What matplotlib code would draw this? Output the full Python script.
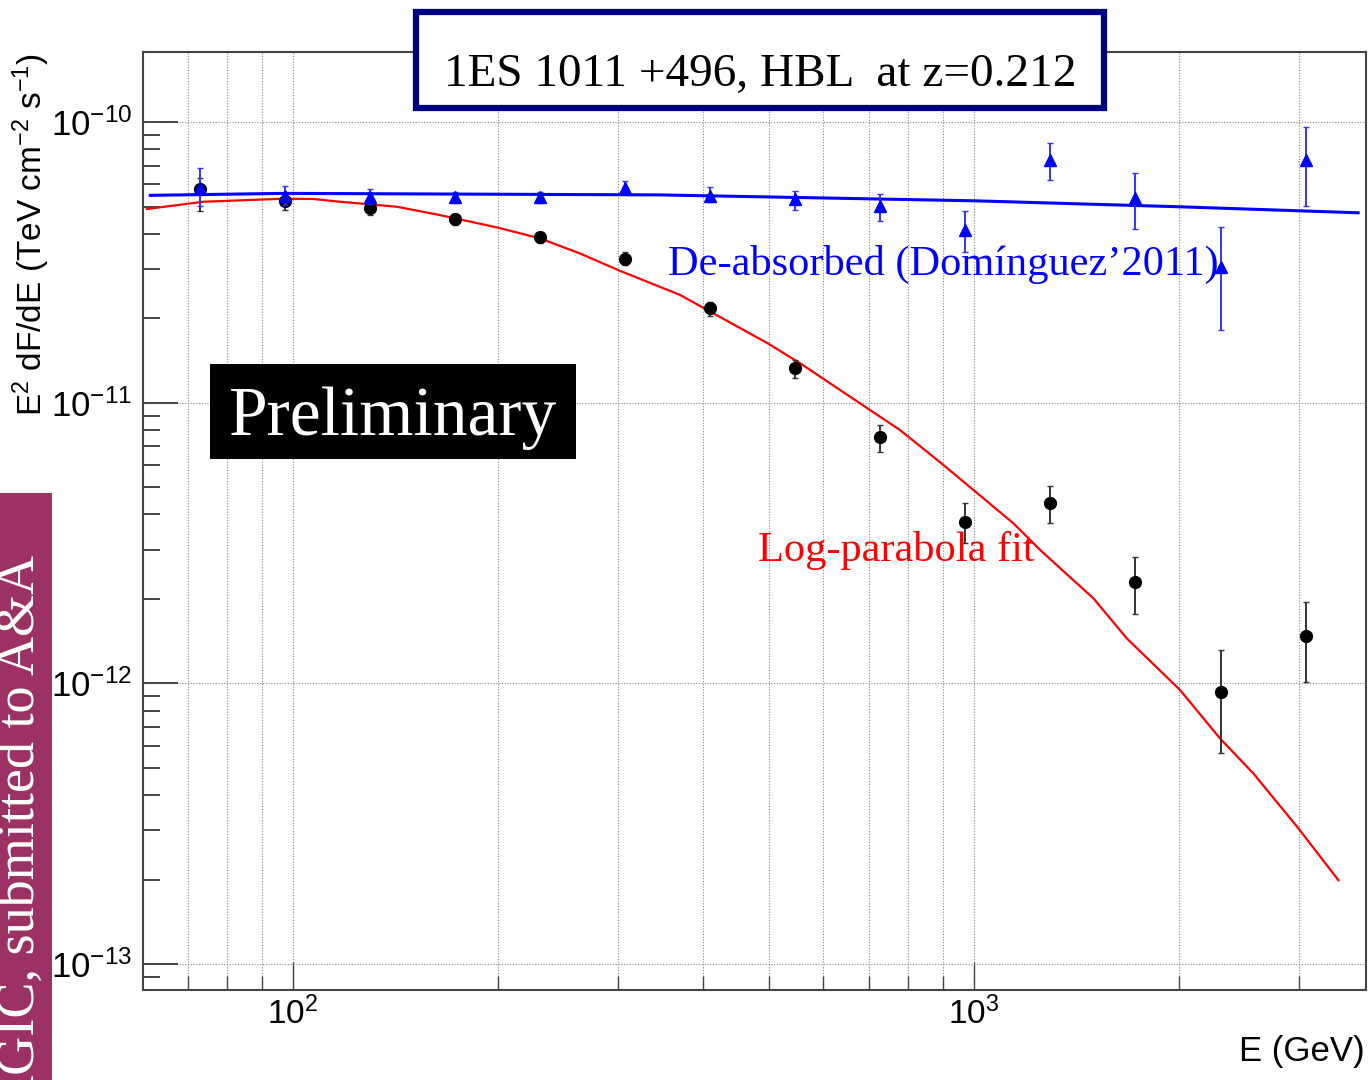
import matplotlib
matplotlib.use("Agg")
import matplotlib.pyplot as plt
from matplotlib.patches import Rectangle
from matplotlib.ticker import LogLocator, NullFormatter

plt.rcParams['font.family'] = ['Liberation Sans', 'DejaVu Sans']
plt.rcParams['mathtext.fontset'] = 'custom'
plt.rcParams['mathtext.rm'] = 'Liberation Sans'
plt.rcParams['mathtext.it'] = 'Liberation Sans:italic'

# energies of the spectral points (GeV)
energy = [72.9, 97.2, 129.6, 172.8, 230.4, 307.3, 409.6, 546.2, 727.8, 970.8, 1294, 1726, 2301, 3069]

# observed spectrum (black circles), E^2 dF/dE in TeV cm-2 s-1
flux_obs = [5.76e-11, 5.23e-11, 4.95e-11, 4.50e-11, 3.88e-11, 3.26e-11, 2.175e-11,
            1.325e-11, 7.57e-12, 3.77e-12, 4.40e-12, 2.30e-12, 9.29e-13, 1.48e-12]
obs_hi = [6.32e-11, 5.49e-11, 5.19e-11, 4.70e-11, 4.03e-11, 3.44e-11, 2.28e-11,
          1.42e-11, 8.33e-12, 4.39e-12, 5.05e-12, 2.82e-12, 1.315e-12, 1.95e-12]
obs_lo = [4.82e-11, 4.86e-11, 4.66e-11, 4.30e-11, 3.71e-11, 3.09e-11, 2.04e-11,
          1.225e-11, 6.67e-12, 3.16e-12, 3.73e-12, 1.767e-12, 5.65e-13, 1.01e-12]

# de-absorbed spectrum (blue triangles)
flux_deabs = [5.83e-11, 5.45e-11, 5.42e-11, 5.39e-11, 5.39e-11, 5.80e-11, 5.45e-11,
              5.30e-11, 5.02e-11, 4.12e-11, 7.32e-11, 5.35e-11, 3.05e-11, 7.32e-11]
deabs_hi = [6.86e-11, 5.92e-11, 5.77e-11, 5.63e-11, 5.63e-11, 6.16e-11, 5.87e-11,
            5.68e-11, 5.54e-11, 4.82e-11, 8.42e-11, 6.58e-11, 4.22e-11, 9.60e-11]
deabs_lo = [5.02e-11, 5.06e-11, 5.10e-11, 5.14e-11, 5.14e-11, 5.58e-11, 5.19e-11,
            4.86e-11, 4.44e-11, 3.44e-11, 6.21e-11, 4.16e-11, 1.815e-11, 5.02e-11]

# log-parabola fit (red)
fit_e = [61.0, 73.8, 96.7, 107.0, 117.2, 142.1, 164.4, 199.4, 230.5, 263.9, 302.1, 370.1,
         497.9, 555.4, 680.0, 778.6, 901.6, 997.7, 1142, 1250, 1497, 1676, 2007, 2297,
         2571, 2993, 3428]
fit_f = [4.90e-11, 5.20e-11, 5.33e-11, 5.32e-11, 5.20e-11, 4.99e-11, 4.66e-11, 4.21e-11,
         3.85e-11, 3.40e-11, 2.95e-11, 2.42e-11, 1.627e-11, 1.382e-11, 9.95e-12, 7.99e-12,
         6.00e-12, 4.89e-12, 3.72e-12, 2.99e-12, 2.01e-12, 1.447e-12, 9.47e-13, 6.37e-13,
         4.78e-13, 3.05e-13, 1.99e-13]

# de-absorbed fit (blue line)
deabs_fit_e = [61.7, 97.3, 346, 1003, 2000, 3664]
deabs_fit_f = [5.48e-11, 5.57e-11, 5.50e-11, 5.24e-11, 4.99e-11, 4.75e-11]

W, H = 1368, 1080


def fx(x):
    return x / W


def fy(y):
    return 1 - y / H


fig = plt.figure(figsize=(W / 100, H / 100), dpi=100)
ax = fig.add_axes([fx(143), fy(990), fx(1366) - fx(143), fy(52) - fy(990)])
ax.set_xscale('log')
ax.set_yscale('log')
ax.set_xlim(60.2, 3763)
ax.set_ylim(8.09e-14, 1.776e-10)

ax.plot(fit_e, fit_f, color='#ff0000', lw=1.6, zorder=3)
ax.plot(deabs_fit_e, deabs_fit_f, color='#0000ff', lw=2.2, zorder=3)

ax.errorbar(energy, flux_obs,
            yerr=[[f - l for f, l in zip(flux_obs, obs_lo)], [h - f for f, h in zip(flux_obs, obs_hi)]],
            fmt='o', color='black', ecolor='#333333', elinewidth=1.4, capsize=2.5,
            markersize=8.5, zorder=4)
ax.errorbar(energy, flux_deabs,
            yerr=[[f - l for f, l in zip(flux_deabs, deabs_lo)], [h - f for f, h in zip(flux_deabs, deabs_hi)]],
            fmt='^', color='#0000ff', ecolor='#3333ff', elinewidth=1.4, capsize=2.5,
            markersize=8, zorder=5)

# axes, ticks, grid in ROOT style
ax.xaxis.set_major_locator(LogLocator(base=10))
ax.xaxis.set_minor_locator(LogLocator(base=10, subs=range(2, 10)))
ax.xaxis.set_minor_formatter(NullFormatter())
ax.yaxis.set_major_locator(LogLocator(base=10))
ax.yaxis.set_minor_locator(LogLocator(base=10, subs=range(2, 10)))
ax.yaxis.set_minor_formatter(NullFormatter())
ax.tick_params(axis='both', which='both', direction='in', color='#444444')
ax.tick_params(axis='y', which='major', length=25, width=1.4, labelsize=25, pad=8)
ax.tick_params(axis='y', which='minor', length=12.5, width=1.4)
ax.tick_params(axis='x', which='major', length=20, width=1.0, labelsize=24, pad=5)
ax.tick_params(axis='x', which='minor', length=10, width=1.0)
ax.grid(True, axis='x', which='both', ls=(0, (1, 1.5)), color='#888888', lw=0.8)
ax.grid(True, axis='y', which='major', ls=(0, (1, 1.5)), color='#888888', lw=0.8)
for s in ax.spines.values():
    s.set_color('#444444')
    s.set_linewidth(1.5)

fig.text(fx(31), fy(235), r'E$^{2}$ dF/dE (TeV cm$^{-2}$ s$^{-1}$)', rotation=90,
         ha='center', va='center', fontsize=24)
fig.text(fx(1365), fy(1052), 'E (GeV)', ha='right', va='center', fontsize=25)

# title box
fig.add_artist(Rectangle((fx(416), fy(108)), fx(1104) - fx(416), fy(12) - fy(108),
                         transform=fig.transFigure, facecolor='white', edgecolor='#000080',
                         lw=4.5, zorder=10))
fig.text(fx(760), fy(86), '1ES 1011 +496, HBL  at z=0.212', ha='center', va='baseline',
         fontsize=34, family='Liberation Serif', zorder=11)

# Preliminary box
fig.add_artist(Rectangle((fx(210), fy(459)), fx(576) - fx(210), fy(364) - fy(459),
                         transform=fig.transFigure, facecolor='black', edgecolor='none', zorder=10))
fig.text(fx(393), fy(435), 'Preliminary', ha='center', va='baseline', color='white',
         fontsize=50, family='Liberation Serif', zorder=11)

fig.text(fx(668), fy(275), 'De-absorbed (Domínguez’2011)', ha='left', va='baseline',
         color='#0000ff', fontsize=30.5, family='Liberation Serif', zorder=11)
fig.text(fx(758), fy(561), 'Log-parabola fit', ha='left', va='baseline',
         color='#ff0000', fontsize=30.5, family='Liberation Serif', zorder=11)

# side strip
fig.add_artist(Rectangle((0, 0), fx(52), fy(493), transform=fig.transFigure,
                         facecolor='#9b3263', edgecolor='none', zorder=10))
fig.text(fx(34), fy(555), 'MAGIC, submitted to A&A', rotation=90, rotation_mode='anchor',
         ha='right', va='baseline', color='white', fontsize=39,
         family='Liberation Serif', zorder=11)

fig.savefig('out.png', dpi=100)
